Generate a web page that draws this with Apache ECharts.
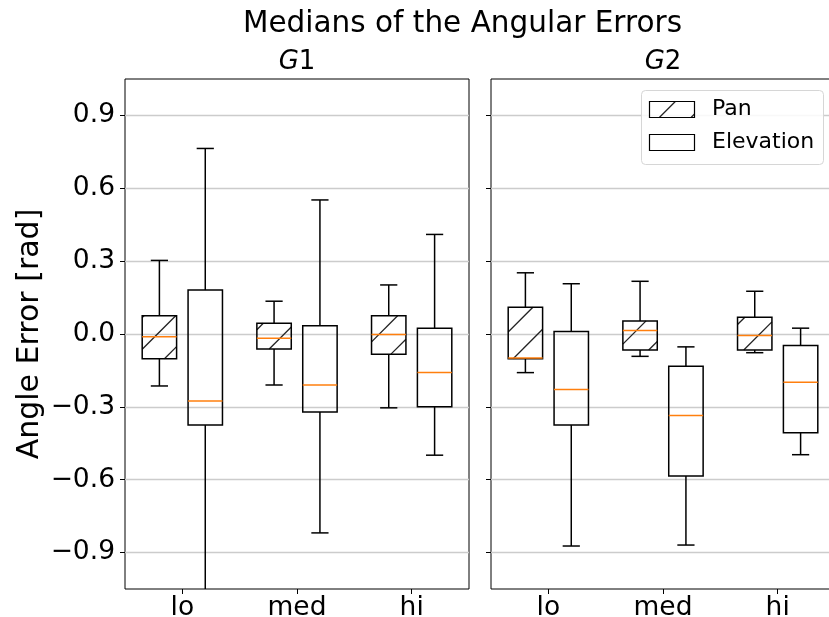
<!DOCTYPE html>
<html>
<head>
<meta charset="utf-8">
<script src="https://cdn.jsdelivr.net/npm/echarts@6/dist/echarts.min.js"></script>
<style>
  html, body { margin: 0; padding: 0; background: #fff; }
  #chart { width: 829px; height: 617px; }
</style>
</head>
<body>
<div id="chart"></div>
<script>
// Box statistics per condition: [lower whisker, Q1, median, Q3, upper whisker]
const categories = ['lo', 'med', 'hi'];
const g1Pan = [
  [-0.214, -0.102, -0.011, 0.075, 0.303],
  [-0.210, -0.062, -0.017, 0.044, 0.135],
  [-0.304, -0.083, -0.002, 0.075, 0.202]
];
const g1Elevation = [
  [-1.270, -0.375, -0.276, 0.181, 0.764],
  [-0.819, -0.321, -0.210, 0.034, 0.552],
  [-0.499, -0.300, -0.159, 0.024, 0.410]
];
const g2Pan = [
  [-0.159, -0.102, -0.099, 0.110, 0.252],
  [-0.092, -0.066, 0.014, 0.054, 0.217],
  [-0.077, -0.066, -0.006, 0.069, 0.176]
];
const g2Elevation = [
  [-0.873, -0.375, -0.229, 0.010, 0.207],
  [-0.869, -0.585, -0.336, -0.133, -0.053],
  [-0.497, -0.407, -0.199, -0.047, 0.024]
];
const yTicks = [-0.9, -0.6, -0.3, 0, 0.3, 0.6, 0.9];
const Y_MIN = -1.05, Y_MAX = 1.05;

const FONT = 'DejaVu Sans';
const MEDIAN_COLOR = '#ff7f0e';
const BOX_WIDTH = 0.3;     // in category units
const BOX_SHIFT = 0.2;     // Pan left, Elevation right of the tick
const HATCH_STEP = 31.7;
const HATCH_PHASE = 16;
const LW = 1.5;
const TICK_FONT = 26.5;

function fmtTick(v) {
  const s = Math.abs(v).toFixed(1);
  return v < -1e-9 ? '\u2212' + s : s;
}

// Diagonal "/" hatch segments inside a pixel rectangle (lines where x + y is constant).
function hatchSegments(x0, y0, x1, y1) {
  const segs = [];
  let c = Math.ceil((x0 + y0 - HATCH_PHASE) / HATCH_STEP) * HATCH_STEP + HATCH_PHASE;
  for (; c <= x1 + y1; c += HATCH_STEP) {
    const xa = Math.max(x0, c - y1), xb = Math.min(x1, c - y0);
    if (xb - xa > 0.5) segs.push([xa, c - xa, xb, c - xb]);
  }
  return segs;
}

function toItems(stats) {
  return stats.map((s, i) => [i].concat(s));
}

function boxRenderer(shift, hatched) {
  return function (params, api) {
    const idx = api.value(0);
    const band = api.size([1, 0])[0];
    const cx = api.coord([idx, 0])[0] + shift * band;
    const half = BOX_WIDTH * band / 2;
    const capHalf = half / 2;
    const cs = params.coordSys;
    const clampY = y => Math.max(cs.y, Math.min(cs.y + cs.height, y));
    const py = k => api.coord([idx, api.value(k)])[1];
    const yLow = py(1), yQ1 = py(2), yMed = py(3), yQ3 = py(4), yHigh = py(5);
    const line = (x1, y1, x2, y2, color) => ({
      type: 'line',
      shape: { x1, y1, x2, y2 },
      style: { stroke: color || '#000', lineWidth: LW }
    });
    const children = [];
    if (hatched) {
      hatchSegments(cx - half, yQ3, cx + half, yQ1).forEach(s => {
        children.push({
          type: 'line',
          shape: { x1: s[0], y1: s[1], x2: s[2], y2: s[3] },
          style: { stroke: '#222', lineWidth: 1.3 }
        });
      });
    }
    children.push({
      type: 'rect',
      shape: { x: cx - half, y: yQ3, width: 2 * half, height: yQ1 - yQ3 },
      style: { fill: 'none', stroke: '#000', lineWidth: LW }
    });
    // whiskers
    children.push(line(cx, yQ3, cx, clampY(yHigh)));
    children.push(line(cx, yQ1, cx, clampY(yLow)));
    // caps (only inside the plotting area)
    if (yHigh >= cs.y) children.push(line(cx - capHalf, yHigh, cx + capHalf, yHigh));
    if (yLow <= cs.y + cs.height) children.push(line(cx - capHalf, yLow, cx + capHalf, yLow));
    // median
    children.push(line(cx - half, yMed, cx + half, yMed, MEDIAN_COLOR));
    return { type: 'group', children };
  };
}

function xAxisFor(gridIndex) {
  return {
    type: 'category',
    gridIndex,
    data: categories,
    boundaryGap: true,
    position: 'bottom',
    axisLine: { show: false, onZero: false },
    axisTick: { show: true, alignWithLabel: true, length: 5, lineStyle: { color: '#000', width: 1 } },
    axisLabel: { color: '#000', fontSize: TICK_FONT, fontFamily: FONT, margin: 6 },
    splitLine: { show: false }
  };
}

function yAxisFor(gridIndex, withLabels) {
  const axis = {
    type: 'value',
    gridIndex,
    min: Y_MIN,
    max: Y_MAX,
    position: 'left',
    axisLine: { show: false, onZero: false },
    axisTick: { show: true, length: 5, customValues: yTicks, lineStyle: { color: '#000', width: 1 } },
    axisLabel: {
      show: withLabels, customValues: yTicks, formatter: fmtTick,
      color: '#000', fontSize: TICK_FONT, fontFamily: FONT, margin: 10
    },
    splitLine: { show: true, lineStyle: { color: '#cccccc', width: 1.3 } }
  };
  if (withLabels) {
    Object.assign(axis, {
      name: 'Angle Error [rad]',
      nameLocation: 'middle',
      nameGap: 80,
      nameTextStyle: { color: '#000', fontSize: 30, fontFamily: FONT }
    });
  }
  return axis;
}

function boxSeries(stats, axisIndex, shift, hatched, name) {
  return {
    type: 'custom',
    name,
    xAxisIndex: axisIndex,
    yAxisIndex: axisIndex,
    clip: true,
    encode: { x: 0, y: [1, 2, 3, 4, 5] },
    data: toItems(stats),
    renderItem: boxRenderer(shift, hatched),
    silent: true
  };
}

// Legend drawn in the upper-right corner of the right panel
const legendBox = { x: 641.5, y: 90.5, w: 182, h: 74 };
const handle = { x: 649.5, w: 45, h: 16 };
const legendRows = [
  { label: 'Pan', y: 101.5, hatched: true },
  { label: 'Elevation', y: 134.5, hatched: false }
];
const legendElements = [{
  type: 'rect',
  shape: { x: legendBox.x, y: legendBox.y, width: legendBox.w, height: legendBox.h, r: 4 },
  style: { fill: 'rgba(255,255,255,0.85)', stroke: '#d6d6d6', lineWidth: 1 },
  z: 100
}];
legendRows.forEach(row => {
  if (row.hatched) {
    hatchSegments(handle.x, row.y, handle.x + handle.w, row.y + handle.h).forEach(s => {
      legendElements.push({
        type: 'line',
        shape: { x1: s[0], y1: s[1], x2: s[2], y2: s[3] },
        style: { stroke: '#222', lineWidth: 1.2 },
        z: 101
      });
    });
  }
  legendElements.push({
    type: 'rect',
    shape: { x: handle.x, y: row.y, width: handle.w, height: handle.h },
    style: { fill: 'none', stroke: '#000', lineWidth: 1.2 },
    z: 102
  });
  legendElements.push({
    type: 'text',
    x: 712, y: row.y + handle.h / 2,
    style: { text: row.label, fill: '#000', font: '22px "' + FONT + '"', verticalAlign: 'middle', align: 'left' },
    z: 102
  });
});

const chart = echarts.init(document.getElementById('chart'), null, { renderer: 'canvas' });
chart.setOption({
  animation: false,
  backgroundColor: '#fff',
  grid: [
    { left: 125, top: 79, width: 344, height: 510, show: true, borderColor: '#000', borderWidth: 1, backgroundColor: 'transparent', outerBoundsMode: 'none', containLabel: false },
    { left: 491, top: 79, width: 344, height: 510, show: true, borderColor: '#000', borderWidth: 1, backgroundColor: 'transparent', outerBoundsMode: 'none', containLabel: false }
  ],
  xAxis: [xAxisFor(0), xAxisFor(1)],
  yAxis: [yAxisFor(0, true), yAxisFor(1, false)],
  series: [
    boxSeries(g1Pan, 0, -BOX_SHIFT, true, 'Pan'),
    boxSeries(g1Elevation, 0, BOX_SHIFT, false, 'Elevation'),
    boxSeries(g2Pan, 1, -BOX_SHIFT, true, 'Pan'),
    boxSeries(g2Elevation, 1, BOX_SHIFT, false, 'Elevation')
  ],
  graphic: [
    {
      type: 'text', x: 462.5, y: 24,
      style: { text: 'Medians of the Angular Errors', fill: '#000', font: '29.5px "' + FONT + '"', align: 'center', verticalAlign: 'middle' }
    },
    {
      type: 'text', x: 297, y: 62,
      style: {
        text: '{it|G}{n|1}', align: 'center', verticalAlign: 'middle',
        rich: {
          it: { fontSize: 26, fontFamily: FONT, fontStyle: 'italic', fill: '#000' },
          n: { fontSize: 26, fontFamily: FONT, fill: '#000' }
        }
      }
    },
    {
      type: 'text', x: 663, y: 62,
      style: {
        text: '{it|G}{n|2}', align: 'center', verticalAlign: 'middle',
        rich: {
          it: { fontSize: 26, fontFamily: FONT, fontStyle: 'italic', fill: '#000' },
          n: { fontSize: 26, fontFamily: FONT, fill: '#000' }
        }
      }
    }
  ].concat(legendElements)
});
</script>
</body>
</html>
